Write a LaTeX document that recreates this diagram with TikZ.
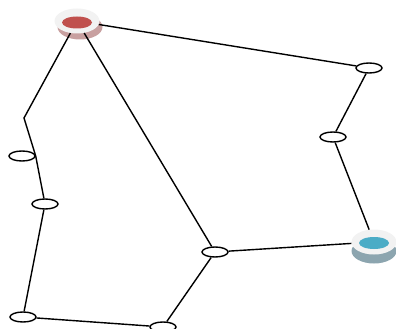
\documentclass[tikz,border=0pt]{standalone}
\usepackage{tikz}
\usetikzlibrary{shapes.geometric,shadows}

\definecolor{coreRed}{RGB}{192,80,77}
\definecolor{coreBlue}{RGB}{75,172,198}
\definecolor{shadeRed}{RGB}{200,160,160}
\definecolor{shadeBlue}{RGB}{140,165,175}
\definecolor{diskTop}{RGB}{242,242,242}

\begin{document}
\begin{tikzpicture}[x=1pt,y=-1pt,
						hop/.style={draw, ellipse, line width=1.4pt, fill=white, inner sep=0pt, minimum width=26pt, minimum height=10pt},
						disk/.style={ellipse, fill=diskTop, inner sep=0pt, minimum width=45pt, minimum height=25pt},
						redcore/.style={path picture={\fill[coreRed] ([yshift=-1.5pt]path picture bounding box.center) ellipse (15pt and 6pt);}},
						bluecore/.style={path picture={\fill[coreBlue] ([yshift=-1pt]path picture bounding box.center) ellipse (15pt and 6pt);}},
						link/.style={line width=1.4pt}]

						\useasboundingbox (0,0) rectangle (396,329);

						%%% End disks
						\node at (77,21) [disk,redcore,general shadow={shadow xshift=3pt,shadow yshift=-6pt,fill=shadeRed}] (diskRed) {};
						\node at (374,242) [disk,bluecore,general shadow={shadow yshift=-9pt,fill=shadeBlue}] (diskBlue) {};

						%%% Right branch
						\node at (369,68) [hop] (hopA) {};
						\node at (333,137) [hop] (hopB) {};

						%%% Left branch
						\coordinate (bend) at (24,118);
						\node at (22,156) [hop] (hopC) {};
						\node at (45,204) [hop] (hopD) {};
						\node at (23,317) [hop] (hopE) {};
						\node at (163,327) [hop] (hopF) {};
						\node at (215,252) [hop] (hopG) {};

						%% connections
						\path [link] (diskRed) edge (hopA);
						\path [link] (hopA) edge (hopB);
						\path [link] (hopB) edge (diskBlue);
						\draw [link] (diskRed) -- (bend) -- (hopC.east) -- (hopD);
						\path [link] (hopD) edge (hopE);
						\path [link] (hopE) edge (hopF);
						\path [link] (hopF) edge (hopG);
						\path [link] (hopG) edge (diskBlue);
						\path [link] (diskRed) edge (hopG);
					\end{tikzpicture}
\end{document}
